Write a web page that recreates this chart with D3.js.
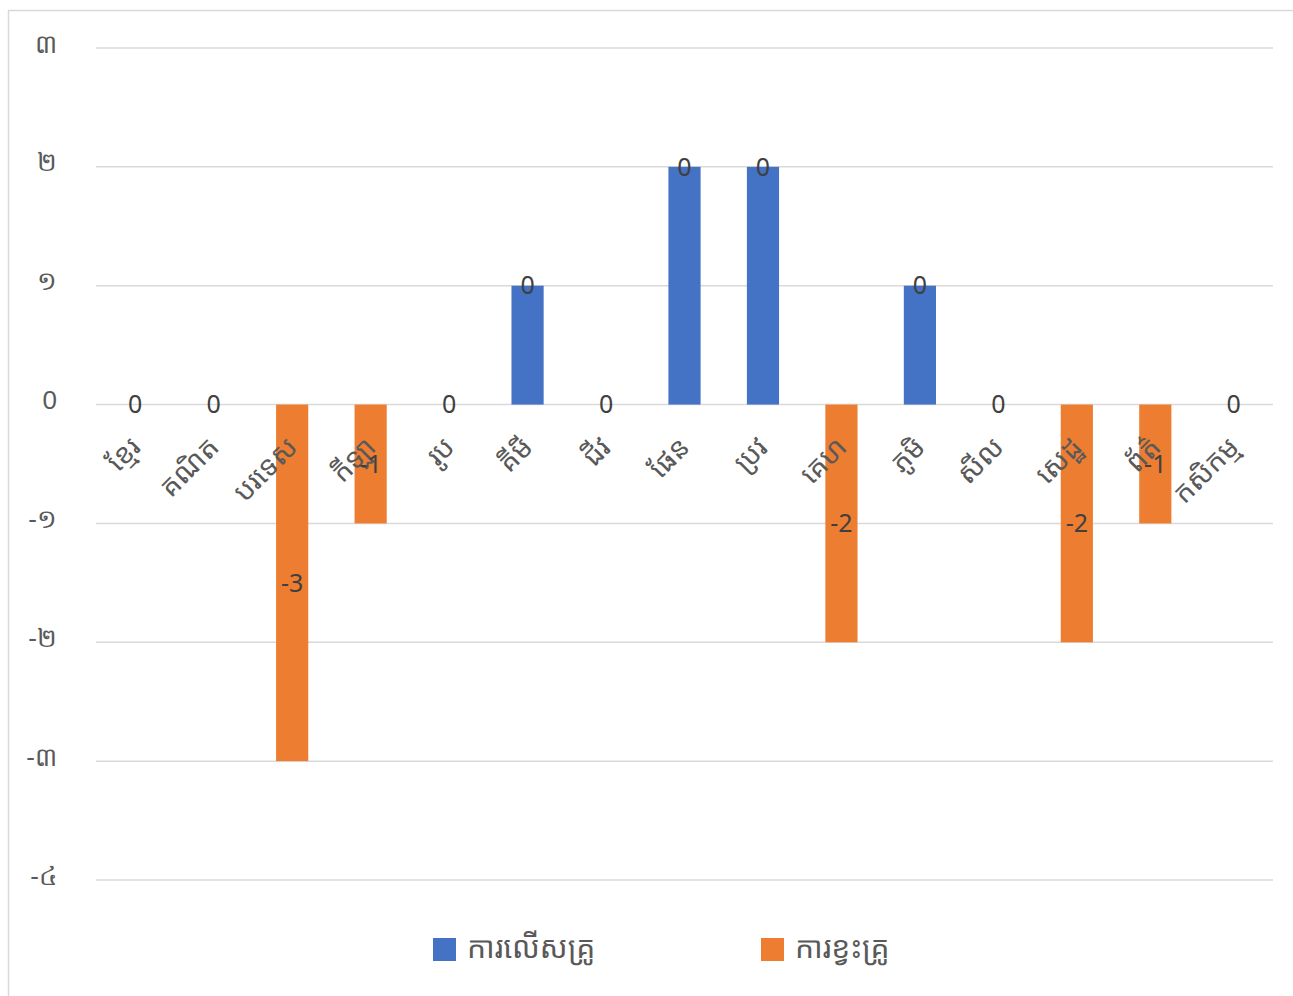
<!DOCTYPE html>
<html><head><meta charset="utf-8">
<script src="https://cdn.jsdelivr.net/npm/d3@7/dist/d3.min.js"></script>
<style>
body{margin:0;background:#fff;}
svg{display:block;font-family:"Noto Sans","Noto Sans Khmer","Khmer OS","DejaVu Sans",sans-serif;}
</style></head><body>
<svg id="c" width="1293" height="996"></svg>
<script>
const categories = ["ខ្មែរ","គណិត","បរទេស","កីឡា","រូប","គីមី","ជីវ","ផែន","ប្រវ","គេហ","ភូមិ","សីល","សេដ្ឋ","ព័ត៌","កសិកម្ម"];
const surplus = [0,0,0,0,0,1,0,2,2,0,1,0,0,0,0];
const shortage = [0,0,-3,-1,0,0,0,0,0,-2,0,0,-2,-1,0];
const surplusLabels = ["0","0","","","0","0","0","0","0","","0","0","","","0"];
const shortageLabels = ["","","-3","-1","","","","","","-2","","","-2","-1",""];
const seriesNames = ["ការលើសគ្រូ","ការខ្វះគ្រូ"];
const tickValues = [3,2,1,0,-1,-2,-3,-4];
const tickLabels = ["៣","២","១","0","-១","-២","-៣","-៤"];
const colors = ["#4472c4","#ed7d31"];

const svg = d3.select("#c");
const W = 1293, H = 996;
svg.append("rect").attr("x",8.5).attr("y",10.5).attr("width",W+10).attr("height",H+10)
  .attr("fill","#fff").attr("stroke","#d9d9d9").attr("stroke-width",1.5);

const x = d3.scaleBand().domain(categories).range([96,1273]).paddingInner(0.59).paddingOuter(0.295);
const y = d3.scaleLinear().domain([-4,3]).range([880,48]);

// gridlines
svg.append("g").selectAll("line").data(tickValues).join("line")
  .attr("x1",96).attr("x2",1273).attr("y1",d=>y(d)).attr("y2",d=>y(d))
  .attr("stroke","#d9d9d9").attr("stroke-width",1.5);

// y axis labels
const yAxis = d3.axisLeft(y).tickValues(tickValues).tickSize(0).tickPadding(0)
  .tickFormat((d,i)=>tickLabels[tickValues.indexOf(d)]);
const ga = svg.append("g").attr("transform","translate(57,-5)").call(yAxis);
ga.select(".domain").remove();
ga.selectAll("text").attr("fill","#595959").style("font-size","26px").attr("dy","0.35em");

// bars
const bw = x.bandwidth();
svg.append("g").selectAll("rect").data(categories).join("rect")
  .attr("x",d=>x(d)).attr("width",bw)
  .attr("y",(d,i)=>y(Math.max(0,surplus[i]))).attr("height",(d,i)=>Math.abs(y(surplus[i])-y(0)))
  .attr("fill",colors[0]);
svg.append("g").selectAll("rect").data(categories).join("rect")
  .attr("x",d=>x(d)).attr("width",bw)
  .attr("y",(d,i)=>y(Math.max(0,shortage[i]))).attr("height",(d,i)=>Math.abs(y(shortage[i])-y(0)))
  .attr("fill",colors[1]);

// category labels
svg.append("g").selectAll("text").data(categories).join("text")
  .attr("transform",d=>`translate(${x(d)+bw/2},${442}) rotate(-45)`)
  .attr("text-anchor","end").attr("fill","#595959").style("font-size","28px")
  .attr("dy","0.35em").text(d=>d);

// data labels
svg.append("g").selectAll("text").data(categories).join("text")
  .attr("x",d=>x(d)+bw/2).attr("y",(d,i)=>y(surplus[i])).attr("dy","0.35em")
  .attr("text-anchor","middle").attr("fill","#404040").style("font-size","25px")
  .text((d,i)=>surplusLabels[i]);
svg.append("g").selectAll("text").data(categories).join("text")
  .attr("x",d=>x(d)+bw/2).attr("y",(d,i)=>y(shortage[i]/2)).attr("dy","0.35em")
  .attr("text-anchor","middle").attr("fill","#404040").style("font-size","25px")
  .text((d,i)=>shortageLabels[i]);

// legend
const lx = [433,761];
const lg = svg.append("g");
seriesNames.forEach((n,i)=>{
  lg.append("rect").attr("x",lx[i]).attr("y",938).attr("width",23).attr("height",23).attr("fill",colors[i]);
  lg.append("text").attr("x",lx[i]+34).attr("y",947).attr("dy","0.35em")
    .attr("fill","#595959").style("font-size","30px").text(n);
});
</script>
</body></html>
